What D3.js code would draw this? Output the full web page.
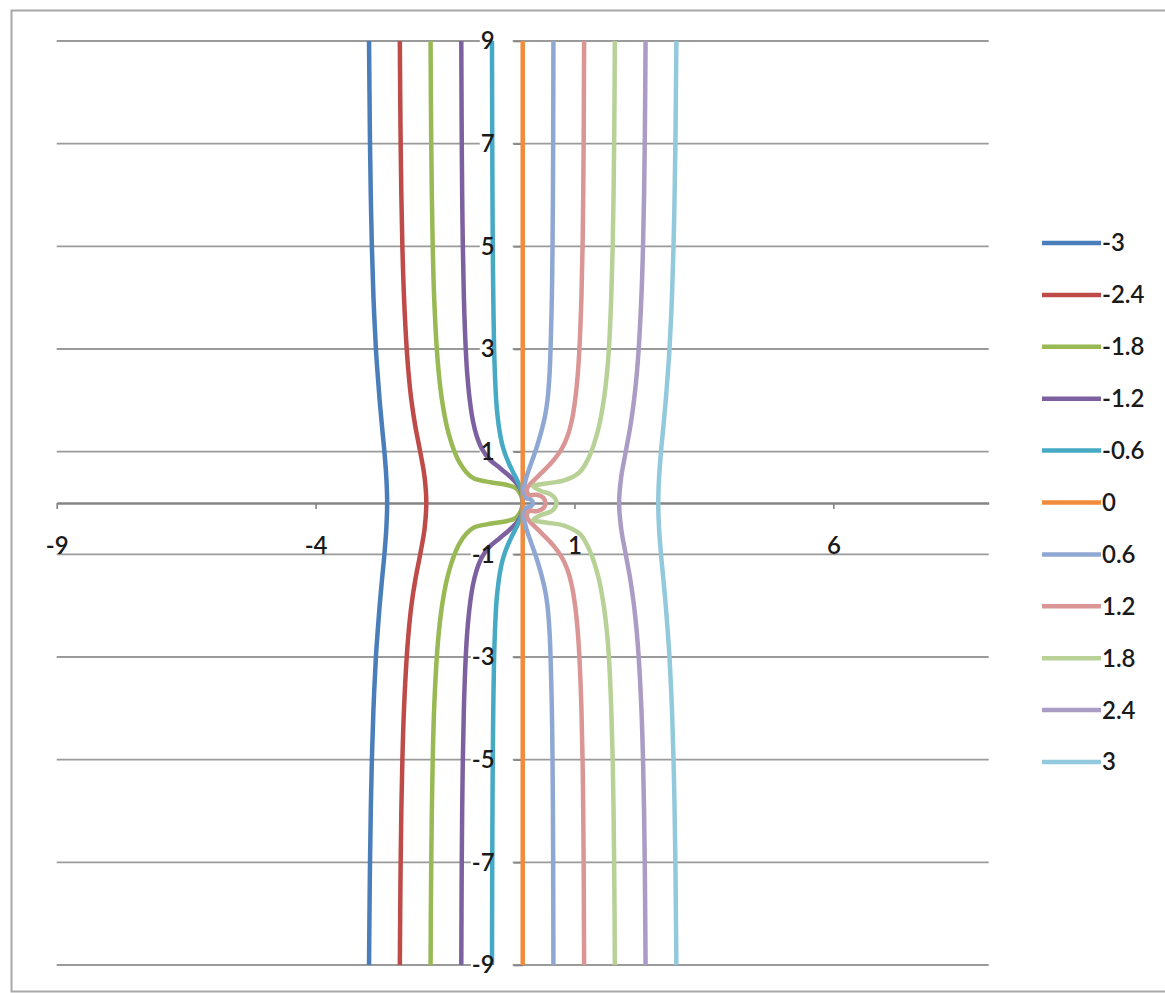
<!DOCTYPE html>
<html>
<head>
<meta charset="utf-8">
<script src="https://cdn.jsdelivr.net/npm/d3@7"></script>
<style>
  body { margin: 0; background: #fff; }
  svg { display: block; }
  text { font-family: Lato, "Liberation Sans", sans-serif; }
</style>
</head>
<body>
<svg id="chart" width="1165" height="993"></svg>
<script>
// Series labels (level values) and axis tick values
const seriesNames = ["-3", "-2.4", "-1.8", "-1.2", "-0.6", "0", "0.6", "1.2", "1.8", "2.4", "3"];
const xTickValues = [-9, -4, 1, 6];
const yTickValues = [9, 7, 5, 3, 1, -1, -3, -5, -7, -9];

// Curve points [x, y] for each level, traced from top (y = 9) to bottom (y = -9)
const lineM30 = [[-2.968,9],[-2.959,8],[-2.949,7],[-2.934,6],[-2.913,5],[-2.882,4],[-2.835,3],[-2.801,2.5],[-2.763,2],[-2.718,1.5],[-2.671,1],[-2.634,0.5],[-2.618,0],[-2.634,-0.5],[-2.671,-1],[-2.718,-1.5],[-2.763,-2],[-2.801,-2.5],[-2.835,-3],[-2.882,-4],[-2.913,-5],[-2.934,-6],[-2.949,-7],[-2.959,-8],[-2.968,-9]];
const lineM24 = [[-2.373,9],[-2.366,8],[-2.357,7],[-2.344,6],[-2.324,5],[-2.292,4],[-2.240,3],[-2.202,2.5],[-2.150,2],[-2.075,1.5],[-1.980,1],[-1.895,0.5],[-1.862,0],[-1.895,-0.5],[-1.980,-1],[-2.075,-1.5],[-2.150,-2],[-2.202,-2.5],[-2.240,-3],[-2.292,-4],[-2.324,-5],[-2.344,-6],[-2.357,-7],[-2.366,-8],[-2.373,-9]];
const lineM18 = [[-1.779,9],[-1.774,8],[-1.766,7],[-1.755,6],[-1.738,5],[-1.710,4],[-1.659,3],[-1.618,2.5],[-1.558,2],[-1.467,1.5],[-1.386,1.2],[-1.317,1],[-1.227,0.8],[-1.09,0.6],[-0.95,0.48],[-0.6,0.4],[-0.3,0.35],[-0.12,0.28],[0,0],[-0.12,-0.28],[-0.3,-0.35],[-0.6,-0.4],[-0.95,-0.48],[-1.09,-0.6],[-1.227,-0.8],[-1.317,-1],[-1.386,-1.2],[-1.467,-1.5],[-1.558,-2],[-1.618,-2.5],[-1.659,-3],[-1.710,-4],[-1.738,-5],[-1.755,-6],[-1.766,-7],[-1.774,-8],[-1.779,-9]];
const lineM12 = [[-1.186,9],[-1.182,8],[-1.177,7],[-1.169,6],[-1.156,5],[-1.136,4],[-1.100,3],[-1.070,2.5],[-1.022,2],[-0.962,1.6],[-0.887,1.3],[-0.785,1.05],[-0.64,0.85],[-0.44,0.68],[-0.25,0.52],[-0.1,0.36],[-0.02,0.2],[0,0],[-0.02,-0.2],[-0.1,-0.36],[-0.25,-0.52],[-0.44,-0.68],[-0.64,-0.85],[-0.785,-1.05],[-0.887,-1.3],[-0.962,-1.6],[-1.022,-2],[-1.070,-2.5],[-1.100,-3],[-1.136,-4],[-1.156,-5],[-1.169,-6],[-1.177,-7],[-1.182,-8],[-1.186,-9]];
const lineM06 = [[-0.593,9],[-0.591,8],[-0.588,7],[-0.584,6],[-0.578,5],[-0.568,4],[-0.552,3],[-0.536,2.5],[-0.512,2],[-0.486,1.7],[-0.447,1.4],[-0.398,1.15],[-0.338,0.95],[-0.266,0.77],[-0.186,0.6],[-0.11,0.45],[-0.045,0.3],[-0.01,0.15],[0,0],[-0.01,-0.15],[-0.045,-0.3],[-0.11,-0.45],[-0.186,-0.6],[-0.266,-0.77],[-0.338,-0.95],[-0.398,-1.15],[-0.447,-1.4],[-0.486,-1.7],[-0.512,-2],[-0.536,-2.5],[-0.552,-3],[-0.568,-4],[-0.578,-5],[-0.584,-6],[-0.588,-7],[-0.591,-8],[-0.593,-9]];
const line0 = [[0,9],[0,-9]];
const lineP06 = [[0.593,9],[0.591,8],[0.588,7],[0.584,6],[0.576,5],[0.563,4],[0.538,3],[0.518,2.5],[0.478,2],[0.432,1.7],[0.362,1.4],[0.29,1.15],[0.225,0.95],[0.155,0.75],[0.085,0.55],[0.04,0.38],[0.025,0.25],[0.06,0.1],[0.15,0.07],[0.2,0],[0.15,-0.07],[0.06,-0.1],[0.025,-0.25],[0.04,-0.38],[0.085,-0.55],[0.155,-0.75],[0.225,-0.95],[0.29,-1.15],[0.362,-1.4],[0.432,-1.7],[0.478,-2],[0.518,-2.5],[0.538,-3],[0.563,-4],[0.576,-5],[0.584,-6],[0.588,-7],[0.591,-8],[0.593,-9]];
const lineP12 = [[1.186,9],[1.182,8],[1.177,7],[1.169,6],[1.156,5],[1.134,4],[1.095,3],[1.063,2.5],[1.012,2],[0.947,1.6],[0.865,1.3],[0.75,1.05],[0.61,0.85],[0.455,0.68],[0.295,0.52],[0.155,0.38],[0.08,0.27],[0.12,0.16],[0.27,0.16],[0.4,0.1],[0.44,0],[0.4,-0.1],[0.27,-0.16],[0.12,-0.16],[0.08,-0.27],[0.155,-0.38],[0.295,-0.52],[0.455,-0.68],[0.61,-0.85],[0.75,-1.05],[0.865,-1.3],[0.947,-1.6],[1.012,-2],[1.063,-2.5],[1.095,-3],[1.134,-4],[1.156,-5],[1.169,-6],[1.177,-7],[1.182,-8],[1.186,-9]];
const lineP18 = [[1.779,9],[1.774,8],[1.766,7],[1.755,6],[1.738,5],[1.710,4],[1.665,3],[1.625,2.5],[1.565,2],[1.475,1.5],[1.393,1.2],[1.325,1],[1.235,0.8],[1.10,0.6],[0.80,0.44],[0.45,0.38],[0.2,0.33],[0.34,0.24],[0.54,0.17],[0.64,0.06],[0.64,-0.06],[0.54,-0.17],[0.34,-0.24],[0.2,-0.33],[0.45,-0.38],[0.80,-0.44],[1.10,-0.6],[1.235,-0.8],[1.325,-1],[1.393,-1.2],[1.475,-1.5],[1.565,-2],[1.625,-2.5],[1.665,-3],[1.710,-4],[1.738,-5],[1.755,-6],[1.766,-7],[1.774,-8],[1.779,-9]];
const lineP24 = [[2.373,9],[2.366,8],[2.357,7],[2.344,6],[2.324,5],[2.292,4],[2.240,3],[2.202,2.5],[2.150,2],[2.080,1.5],[1.990,1],[1.902,0.5],[1.862,0],[1.902,-0.5],[1.990,-1],[2.080,-1.5],[2.150,-2],[2.202,-2.5],[2.240,-3],[2.292,-4],[2.324,-5],[2.344,-6],[2.357,-7],[2.366,-8],[2.373,-9]];
const lineP30 = [[2.968,9],[2.959,8],[2.949,7],[2.934,6],[2.913,5],[2.882,4],[2.835,3],[2.801,2.5],[2.763,2],[2.718,1.5],[2.671,1],[2.634,0.5],[2.618,0],[2.634,-0.5],[2.671,-1],[2.718,-1.5],[2.763,-2],[2.801,-2.5],[2.835,-3],[2.882,-4],[2.913,-5],[2.934,-6],[2.949,-7],[2.959,-8],[2.968,-9]];

const seriesPoints = [lineM30, lineM24, lineM18, lineM12, lineM06, line0, lineP06, lineP12, lineP18, lineP24, lineP30];
const seriesColors = ["#4A7EBB", "#BE4B48", "#98B954", "#7D60A0", "#46AAC5", "#F28C3C",
                      "#8FA8D3", "#DA9694", "#B7D197", "#AB9CC6", "#93C9DC"];

const svg = d3.select("#chart");
const labelFont = 24;

// Plot area mapping
const x = d3.scaleLinear().domain([-9, 9]).range([56.7, 988.7]);
const y = d3.scaleLinear().domain([-9, 9]).range([965, 41]);

// Chart frame
svg.append("rect")
  .attr("x", 11.5).attr("y", 10.5)
  .attr("width", 1200).attr("height", 981)
  .attr("fill", "none").attr("stroke", "#a8a8a8").attr("stroke-width", 2);

// Layers, back to front
const gridLayer = svg.append("g");
const boxLayer = svg.append("g");
const axisLayer = svg.append("g");
const seriesLayer = svg.append("g");
const labelLayer = svg.append("g");
const legendLayer = svg.append("g");

// Horizontal gridlines
gridLayer.selectAll("line")
  .data(yTickValues)
  .join("line")
  .attr("x1", x(-9)).attr("x2", x(9))
  .attr("y1", d => y(d)).attr("y2", d => y(d))
  .attr("stroke", "#9a9a9a").attr("stroke-width", 1.8);

// Axis lines and tick marks (labels drawn separately on top)
const xAxisLines = d3.axisBottom(x).tickValues(xTickValues).tickSize(6).tickSizeOuter(0).tickFormat("");
const yAxisLines = d3.axisLeft(y).tickValues(yTickValues).tickSize(9).tickSizeOuter(0).tickFormat("");

const gxLines = axisLayer.append("g").attr("transform", `translate(0,${y(0)})`).call(xAxisLines);
const gyLines = axisLayer.append("g").attr("transform", `translate(${x(0)},0)`).call(yAxisLines);
[gxLines, gyLines].forEach(g => {
  g.select(".domain").attr("stroke", "#848484").attr("stroke-width", 2.6);
  g.selectAll(".tick line").attr("stroke", "#848484").attr("stroke-width", 1.6);
  g.selectAll(".tick text").remove();
});

// Series curves
const lineGen = d3.line()
  .x(d => x(d[0]))
  .y(d => y(d[1]))
  .curve(d3.curveCatmullRom.alpha(0.5));

seriesLayer.selectAll("path")
  .data(seriesPoints)
  .join("path")
  .attr("d", d => lineGen(d))
  .attr("fill", "none")
  .attr("stroke", (d, i) => seriesColors[i])
  .attr("stroke-width", 4.5)
  .attr("stroke-linejoin", "round");

// Tick labels on top of the curves
const plainNumber = d => String(d);
const xAxisText = d3.axisBottom(x).tickValues(xTickValues).tickSize(6).tickPadding(28).tickFormat(plainNumber);
const yAxisText = d3.axisLeft(y).tickValues(yTickValues).tickSize(9).tickPadding(19).tickFormat(plainNumber);

const gxText = labelLayer.append("g").attr("transform", `translate(0,${y(0)})`).call(xAxisText);
const gyText = labelLayer.append("g").attr("transform", `translate(${x(0)},0)`).call(yAxisText);
[gxText, gyText].forEach(g => {
  g.select(".domain").remove();
  g.selectAll(".tick line").remove();
  g.selectAll(".tick text")
    .attr("font-family", "Lato, 'Liberation Sans', sans-serif")
    .attr("font-size", labelFont)
    .attr("font-weight", 600)
    .attr("fill", "#1a1a1a");
});

// Label backing boxes along the vertical axis
gyText.selectAll(".tick").each(function(d) {
  const bb = d3.select(this).select("text").node().getBBox();
  const left = x(0) + bb.x - 1;
  boxLayer.append("rect")
    .attr("x", left)
    .attr("y", y(d) - 9)
    .attr("width", (x(0) - 10) - left)
    .attr("height", 18)
    .attr("fill", "#ffffff");
});

// Legend
const legendTop = 243, legendStep = 51.9;
const legendItems = legendLayer.selectAll("g")
  .data(seriesNames)
  .join("g")
  .attr("transform", (d, i) => `translate(0,${legendTop + i * legendStep})`);

legendItems.append("line")
  .attr("x1", 1042).attr("x2", 1101)
  .attr("y1", 0).attr("y2", 0)
  .attr("stroke", (d, i) => seriesColors[i])
  .attr("stroke-width", 4.5);

legendItems.append("text")
  .attr("x", 1102)
  .attr("y", 0)
  .attr("dy", "0.35em")
  .attr("font-size", labelFont)
  .attr("font-weight", 600)
  .attr("fill", "#1a1a1a")
  .text(d => d);
</script>
</body>
</html>
